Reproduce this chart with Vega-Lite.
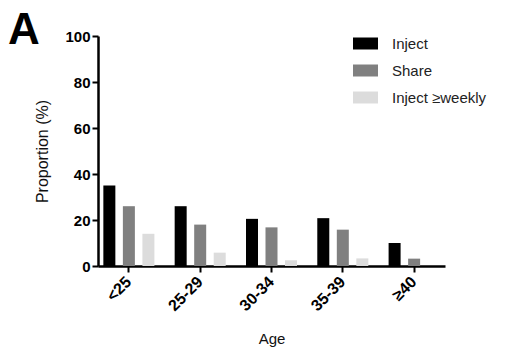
{
  "$schema": "https://vega.github.io/schema/vega-lite/v6.json",
  "width": 347,
  "height": 230,
  "autosize": {"type": "none"},
  "padding": {"left": 98, "top": 36, "right": 66, "bottom": 85},
  "background": "white",
  "title": {"text": "A", "anchor": "start", "frame": "group", "fontSize": 44, "fontWeight": "bold", "font": "Liberation Sans", "color": "black", "dx": -90, "dy": 68, "offset": 0, "baseline": "bottom"},
  "data": {"values": [
    {"age": "<25", "group": "Inject", "value": 35},
    {"age": "<25", "group": "Share", "value": 26},
    {"age": "<25", "group": "Inject ≥weekly", "value": 14},
    {"age": "25-29", "group": "Inject", "value": 26},
    {"age": "25-29", "group": "Share", "value": 18},
    {"age": "25-29", "group": "Inject ≥weekly", "value": 5.8},
    {"age": "30-34", "group": "Inject", "value": 20.5},
    {"age": "30-34", "group": "Share", "value": 16.8},
    {"age": "30-34", "group": "Inject ≥weekly", "value": 2.5},
    {"age": "35-39", "group": "Inject", "value": 20.8},
    {"age": "35-39", "group": "Share", "value": 15.8},
    {"age": "35-39", "group": "Inject ≥weekly", "value": 3.3},
    {"age": "≥40", "group": "Inject", "value": 10},
    {"age": "≥40", "group": "Share", "value": 3.2},
    {"age": "≥40", "group": "Inject ≥weekly", "value": 0}
  ]},
  "mark": {"type": "bar"},
  "encoding": {
    "x": {"field": "age", "type": "nominal", "sort": ["<25", "25-29", "30-34", "35-39", "≥40"],
      "scale": {"paddingInner": 0.18, "paddingOuter": 0.023},
      "axis": {"title": "Age", "labelAngle": -45, "labelFontWeight": "bold", "labelFontSize": 16, "labelFont": "Liberation Sans", "labelColor": "black", "labelAlign": "right", "labelBaseline": "middle", "labelPadding": 7,
        "titleFont": "Liberation Sans", "titleFontSize": 15, "titleFontWeight": "normal", "titleColor": "#111", "titlePadding": 18,
        "domainColor": "black", "domainWidth": 2.5, "tickColor": "black", "tickWidth": 2, "tickSize": 6}},
    "xOffset": {"field": "group", "type": "nominal", "sort": ["Inject", "Share", "Inject ≥weekly"], "scale": {"paddingInner": 0.385, "paddingOuter": 0.19}},
    "y": {"field": "value", "type": "quantitative", "scale": {"domain": [0, 100]},
      "axis": {"title": "Proportion (%)", "values": [0, 20, 40, 60, 80, 100], "grid": false, "labelFontWeight": "bold", "labelFontSize": 15, "labelFont": "Liberation Sans", "labelColor": "black", "labelPadding": 2,
        "titleFont": "Liberation Sans", "titleFontSize": 16, "titleFontWeight": "normal", "titleColor": "#111", "titlePadding": 14,
        "domainColor": "black", "domainWidth": 2.5, "tickColor": "black", "tickWidth": 2, "tickSize": 6}},
    "color": {"field": "group", "type": "nominal", "sort": ["Inject", "Share", "Inject ≥weekly"],
      "scale": {"domain": ["Inject", "Share", "Inject ≥weekly"], "range": ["#000000", "#808080", "#dcdcdc"]},
      "legend": {"title": null, "orient": "none", "legendX": 255, "legendY": -5, "symbolType": "M-1,-0.48H1V0.48H-1Z", "symbolSize": 625, "symbolStrokeWidth": 0, "symbolOpacity": 1,
        "labelFont": "Liberation Sans", "labelFontSize": 15, "labelColor": "#222", "labelOffset": 14, "rowPadding": 6}}
  },
  "config": {"view": {"stroke": null}}
}
